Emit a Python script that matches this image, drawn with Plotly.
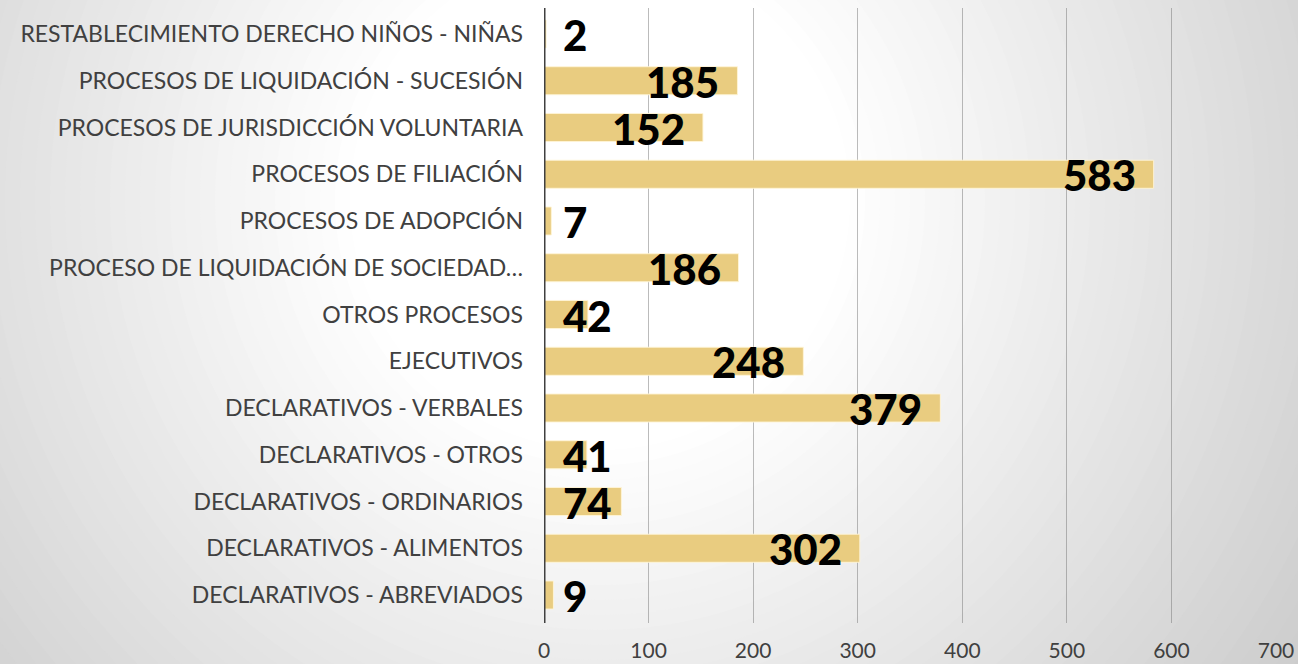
import plotly.graph_objects as go

categories = [
    "DECLARATIVOS - ABREVIADOS",
    "DECLARATIVOS - ALIMENTOS",
    "DECLARATIVOS - ORDINARIOS",
    "DECLARATIVOS - OTROS",
    "DECLARATIVOS - VERBALES",
    "EJECUTIVOS",
    "OTROS PROCESOS",
    "PROCESO DE LIQUIDACIÓN DE SOCIEDAD…",
    "PROCESOS DE ADOPCIÓN",
    "PROCESOS DE FILIACIÓN",
    "PROCESOS DE JURISDICCIÓN VOLUNTARIA",
    "PROCESOS DE LIQUIDACIÓN - SUCESIÓN",
    "RESTABLECIMIENTO DERECHO NIÑOS - NIÑAS",
]
values = [9, 302, 74, 41, 379, 248, 42, 186, 7, 583, 152, 185, 2]
x_ticks = [0, 100, 200, 300, 400, 500, 600, 700]

W, H = 1298, 664
L, R, T, B = 544, 22, 8, 41
pw, ph = W - L - R, H - T - B
px_per_unit = pw / 700.0

fig = go.Figure()
fig.add_trace(go.Bar(
    y=categories, x=values, orientation="h",
    marker=dict(color="rgb(233,204,128)", line=dict(color="rgba(255,245,215,0.9)", width=1)),
    hoverinfo="x+y",
))

# value labels
annotations = []
lab_font = dict(family="Lato", size=42, color="black", weight=900)
for cat, v in zip(categories, values):
    n = len(str(v))
    left_px = v * px_per_unit - 16 - 24 * n
    if left_px < 18:
        annotations.append(dict(x=0, y=cat, xref="x", yref="y", text=str(v), showarrow=False,
                                xanchor="left", xshift=17, yshift=-1, font=lab_font))
    else:
        annotations.append(dict(x=v, y=cat, xref="x", yref="y", text=str(v), showarrow=False,
                                xanchor="right", xshift=-16, yshift=-1, font=lab_font))

# radial gradient background via concentric circles
shapes = []
cx, cy = 600, 200
N = 50
r_max, r_min = 1000, 250
for i in range(N + 1):
    r = r_max - (r_max - r_min) * i / N
    c = 255 - 55 * (r - 250) / 650
    c = int(max(0, min(255, round(c))))
    x0 = (cx - r - L) / pw
    x1 = (cx + r - L) / pw
    y0 = (H - B - (cy + r)) / ph
    y1 = (H - B - (cy - r)) / ph
    shapes.append(dict(type="circle", xref="paper", yref="paper", x0=x0, x1=x1, y0=y0, y1=y1,
                       fillcolor=f"rgb({c},{c},{c})", line=dict(width=0), layer="below"))

fig.update_layout(
    width=W, height=H,
    margin=dict(l=L, r=R, t=T, b=B),
    paper_bgcolor="rgb(196,196,196)",
    plot_bgcolor="rgba(0,0,0,0)",
    bargap=0.4,
    showlegend=False,
    shapes=shapes,
    annotations=annotations,
    xaxis=dict(range=[0, 700], tickvals=x_ticks, showgrid=True,
               gridcolor="rgba(120,120,120,0.5)", gridwidth=1, zeroline=False,
               showline=False, ticks="", ticklabelstandoff=13, automargin=False,
               tickfont=dict(family="Lato", size=21, color="#404040"), fixedrange=True),
    yaxis=dict(categoryorder="array", categoryarray=categories, showgrid=False,
               zeroline=False, showline=False, ticks="", ticklabelstandoff=20, automargin=False,
               tickfont=dict(family="Lato", size=23, color="#404040"), fixedrange=True),
)
fig.add_shape(type="line", xref="x", yref="paper", x0=0, x1=0, y0=0, y1=1.0,
              line=dict(color="#404040", width=3), layer="above")

fig.write_html("out.html", config={"displayModeBar": False},
               post_script="document.body.style.margin='0';document.body.style.overflow='hidden';")
